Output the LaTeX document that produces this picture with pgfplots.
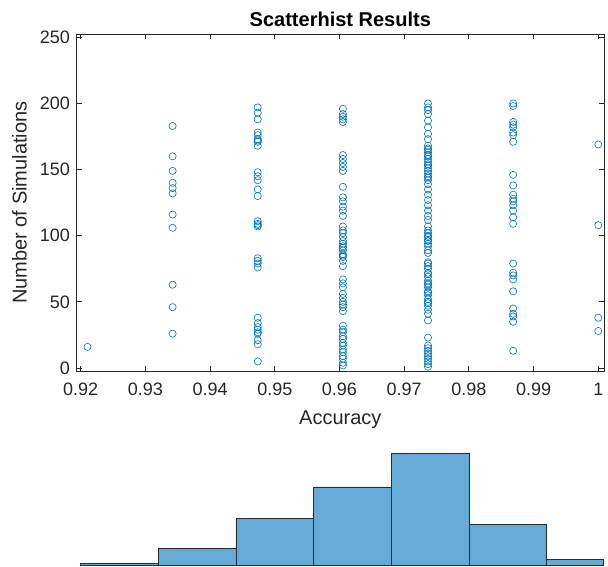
\documentclass[border=0pt]{standalone}
\usepackage{fontspec}
\setmainfont{Liberation Sans}
\usepackage{pgfplots}
\pgfplotsset{compat=1.18}
\definecolor{mblue}{RGB}{0,114,189}
\definecolor{hfill}{RGB}{102,170,215}
\definecolor{hedge}{RGB}{40,44,50}
\definecolor{axcol}{RGB}{38,38,38}
\begin{document}
\begin{tikzpicture}
\useasboundingbox (0,0) rectangle (456pt,-425.25pt);
\begin{axis}[
  at={(57.5pt,-25.5pt)}, anchor=north west,
  scale only axis, width=395.5pt, height=253pt,
  xmin=0.91938, xmax=1.00088, ymin=-2.5, ymax=252.5,
  xtick={0.92,0.93,0.94,0.95,0.96,0.97,0.98,0.99,1.0},
  xticklabels={0.92,0.93,0.94,0.95,0.96,0.97,0.98,0.99,1},
  ytick={0,50,100,150,200,250},
  yticklabels={0,50,100,150,200,250},
  tick align=inside, major tick length=3.9pt,
  xtick pos=both, ytick pos=both,
  axis line style={draw=axcol, line width=0.6pt},
  tick style={draw=axcol, line width=0.6pt},
  ticklabel style={font=\fontsize{13.5}{15}\selectfont, text=axcol},
  xticklabel style={yshift=-5pt},
  yticklabel style={xshift=-1.5pt},
  xlabel={Accuracy}, ylabel={Number of Simulations},
  label style={font=\fontsize{15}{17}\selectfont, text=axcol},
  xlabel style={at={(axis description cs:0.5,-0.1562)}, anchor=base},
  ylabel style={at={(axis description cs:-0.0948,0.5)}, anchor=base},
  title={Scatterhist Results},
  title style={font=\bfseries\fontsize{15}{17}\selectfont, text=black, at={(axis description cs:0.5,1.004)}, anchor=south, yshift=-5.1pt},
]
\addplot[only marks, mark=o, mark size=2.7pt, mark options={draw=mblue, line width=0.45pt}] coordinates {
(0.92105,16)
(0.93421,183) (0.93421,160) (0.93421,149) (0.93421,140) (0.93421,136) (0.93421,132)
(0.93421,116) (0.93421,106) (0.93421,63) (0.93421,46) (0.93421,26)
(0.94737,197) (0.94737,193) (0.94737,188) (0.94737,178) (0.94737,176) (0.94737,173)
(0.94737,172) (0.94737,171) (0.94737,168) (0.94737,148) (0.94737,145) (0.94737,142)
(0.94737,135) (0.94737,130) (0.94737,111) (0.94737,109) (0.94737,108) (0.94737,107)
(0.94737,83) (0.94737,81) (0.94737,79) (0.94737,76) (0.94737,38) (0.94737,34)
(0.94737,31) (0.94737,29) (0.94737,27) (0.94737,26) (0.94737,21) (0.94737,18) (0.94737,5)
(0.96053,196) (0.96053,192) (0.96053,190) (0.96053,188) (0.96053,186)
(0.96053,161) (0.96053,158) (0.96053,155) (0.96053,152) (0.96053,149)
(0.96053,137)
(0.96053,129) (0.96053,126) (0.96053,122) (0.96053,119) (0.96053,115)
(0.96053,107) (0.96053,104) (0.96053,102) (0.96053,99) (0.96053,96) (0.96053,94)
(0.96053,92) (0.96053,91) (0.96053,89) (0.96053,86) (0.96053,85) (0.96053,84) (0.96053,81) (0.96053,77)
(0.96053,67) (0.96053,64) (0.96053,61) (0.96053,56) (0.96053,53) (0.96053,50) (0.96053,48) (0.96053,46) (0.96053,43)
(0.96053,32) (0.96053,29) (0.96053,27) (0.96053,24) (0.96053,22) (0.96053,19) (0.96053,17)
(0.96053,14) (0.96053,12) (0.96053,9) (0.96053,7) (0.96053,4) (0.96053,2)
(0.97368,200) (0.97368,197) (0.97368,195) (0.97368,192) (0.97368,187) (0.97368,182) (0.97368,177) (0.97368,173)
(0.97368,168) (0.97368,166) (0.97368,165) (0.97368,163) (0.97368,161) (0.97368,160) (0.97368,158) (0.97368,156)
(0.97368,154) (0.97368,153) (0.97368,151) (0.97368,149) (0.97368,147) (0.97368,145) (0.97368,144) (0.97368,142)
(0.97368,139) (0.97368,135) (0.97368,131) (0.97368,127) (0.97368,123) (0.97368,119) (0.97368,115) (0.97368,112)
(0.97368,107) (0.97368,104) (0.97368,102) (0.97368,100) (0.97368,99) (0.97368,97) (0.97368,96) (0.97368,94)
(0.97368,92) (0.97368,89) (0.97368,87)
(0.97368,80) (0.97368,79) (0.97368,77) (0.97368,75) (0.97368,72) (0.97368,71) (0.97368,69) (0.97368,66)
(0.97368,64) (0.97368,63) (0.97368,61) (0.97368,58) (0.97368,57) (0.97368,55) (0.97368,52) (0.97368,50)
(0.97368,49) (0.97368,47) (0.97368,44) (0.97368,41)
(0.97368,36) (0.97368,23)
(0.97368,17) (0.97368,15) (0.97368,13) (0.97368,11) (0.97368,9) (0.97368,7) (0.97368,5) (0.97368,3) (0.97368,1)
(0.98684,200) (0.98684,198) (0.98684,186) (0.98684,184) (0.98684,182) (0.98684,178) (0.98684,176)
(0.98684,171) (0.98684,146) (0.98684,138) (0.98684,131) (0.98684,128) (0.98684,126) (0.98684,123)
(0.98684,119) (0.98684,114) (0.98684,109) (0.98684,79) (0.98684,72) (0.98684,70) (0.98684,67)
(0.98684,58) (0.98684,45) (0.98684,41) (0.98684,39) (0.98684,35) (0.98684,13)
(1.0,169) (1.0,108) (1.0,38) (1.0,28)
};
\end{axis}
\begin{axis}[
  at={(57.5pt,-424pt)}, anchor=south west,
  scale only axis, width=395.5pt, height=83.7pt,
  xmin=0.91938, xmax=1.00088, ymin=0, ymax=74,
  axis lines=none, clip=false,
]
\addplot[ybar interval, fill=hfill, draw=hedge, line width=0.6pt] coordinates {
(0.920,1) (0.932,11) (0.944,31) (0.956,52) (0.968,74) (0.980,27) (0.992,4) (1.0008,4)
};
\end{axis}
\end{tikzpicture}
\end{document}
